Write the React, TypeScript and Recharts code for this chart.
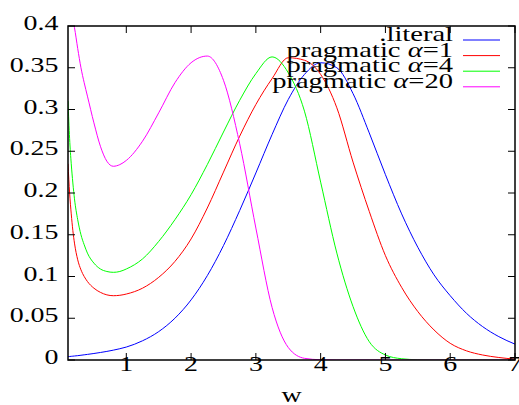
import { LineChart, Line, XAxis, YAxis, Legend, Label } from "recharts";

// sample points along w (x axis): finer near the left edge
const W = [0.1, 0.125, 0.15, 0.175, 0.2, 0.25, 0.3, 0.35, 0.4, 0.5, 0.6, 0.7, 0.8, 0.9, 1, 1.25, 1.5, 1.75, 2, 2.25, 2.5, 2.75, 3, 3.25, 3.5, 3.75, 4, 4.25, 4.5, 4.75, 5, 5.25, 5.5, 5.75, 6, 6.25, 6.5, 6.75, 7];

const LITERAL = [
  0.004, 0.0042, 0.0044, 0.0046, 0.0048, 0.0052, 0.0057, 0.0062, 0.0067, 0.0078, 0.009, 0.0103, 0.0118, 0.0135, 0.0155,
  0.023, 0.034, 0.05, 0.072, 0.101, 0.137, 0.179, 0.224, 0.27, 0.312, 0.342, 0.356, 0.35, 0.319, 0.272, 0.222, 0.175, 0.135, 0.102, 0.077, 0.056, 0.04, 0.028, 0.019,
];
const ALPHA1 = [
  0.235, 0.2, 0.175, 0.155, 0.14, 0.12, 0.108, 0.1, 0.094, 0.086, 0.081, 0.078, 0.077, 0.0775, 0.079,
  0.086, 0.099, 0.118, 0.145, 0.182, 0.225, 0.268, 0.306, 0.337, 0.362, 0.359, 0.342, 0.302, 0.237, 0.178, 0.125, 0.087, 0.058, 0.036, 0.02, 0.011, 0.006, 0.003, 0.001,
];
const ALPHA4 = [
  0.31, 0.265, 0.235, 0.212, 0.193, 0.168, 0.15, 0.138, 0.128, 0.116, 0.109, 0.106, 0.105, 0.106, 0.109,
  0.121, 0.142, 0.168, 0.198, 0.234, 0.273, 0.311, 0.343, 0.363, 0.344, 0.298, 0.213, 0.128, 0.064, 0.022, 0.006, 0.0015, 0.0003, 0, 0, 0, 0, 0, 0,
];
const ALPHA20 = [
  0.47, 0.44, 0.42, 0.408, 0.398, 0.373, 0.35, 0.332, 0.316, 0.284, 0.256, 0.238, 0.232, 0.234, 0.239,
  0.262, 0.296, 0.332, 0.356, 0.364, 0.335, 0.259, 0.158, 0.063, 0.015, 0.002, 0.0003, 0, 0, 0, 0, 0, 0, 0, 0, 0, 0, 0, 0,
];

const X_TICKS = [1, 2, 3, 4, 5, 6, 7];
const Y_TICKS = [0, 0.05, 0.1, 0.15, 0.2, 0.25, 0.3, 0.35, 0.4];

const SERIES = [
  { key: "literal", name: ".literal", color: "#0000ff" },
  { key: "a1", name: "pragmatic α=1", color: "#ff0000" },
  { key: "a4", name: "pragmatic α=4", color: "#00ff00" },
  { key: "a20", name: "pragmatic α=20", color: "#ff00ff" },
];

const data = W.map((w, i) => ({
  w,
  literal: LITERAL[i],
  a1: ALPHA1[i],
  a4: ALPHA4[i],
  a20: ALPHA20[i],
}));

// plot box (layout)
const WIDTH = 519;
const HEIGHT = 405;
const LEFT = 68;
const TOP = 26;
const RIGHT = 515;
const BOTTOM = 360;
const TICK = 7;

const textStyle = {
  fontFamily: "'Liberation Serif', 'Times New Roman', Tinos, 'DejaVu Serif', serif",
  fontSize: 21,
  fill: "#000",
};
const STRETCH = 1.33;

// x tick: label + inward marks on the bottom and top border
function XTick({ x, payload }: any) {
  return (
    <g>
      <line x1={x} x2={x} y1={BOTTOM} y2={BOTTOM - TICK} stroke="#000000" strokeWidth={1} />
      <line x1={x} x2={x} y1={TOP} y2={TOP + TICK} stroke="#000000" strokeWidth={1} />
      <text transform={`translate(${x},${BOTTOM + 10.5}) scale(${STRETCH},1)`} textAnchor="middle" style={textStyle}>
        {payload.value}
      </text>
    </g>
  );
}

// y tick: label + inward marks on the left and right border
function YTick({ y, payload }: any) {
  return (
    <g>
      <line x1={LEFT} x2={LEFT + TICK} y1={y} y2={y} stroke="#000000" strokeWidth={1} />
      <line x1={RIGHT} x2={RIGHT - TICK} y1={y} y2={y} stroke="#000000" strokeWidth={1} />
      <text transform={`translate(${LEFT - 9.5},${y + 4}) scale(${STRETCH},1)`} textAnchor="end" style={textStyle}>
        {payload.value}
      </text>
    </g>
  );
}

function WLabel({ viewBox }: any) {
  const { x, y, width } = viewBox;
  return (
    <text transform={`translate(${x + width / 2},${y + 42}) scale(${STRETCH},1)`} textAnchor="middle" style={textStyle}>
      w
    </text>
  );
}

// key drawn in the series order (gnuplot style: text right-aligned, sample line on the right),
// plus the border box around the plot
function Key() {
  return (
    <svg width={WIDTH} height={HEIGHT} style={{ display: "block" }}>
      <rect x={LEFT} y={TOP} width={RIGHT - LEFT} height={BOTTOM - TOP} fill="none" stroke="#000000" strokeWidth={1.5} />
      {SERIES.map((s, i) => {
        const y = 41 + i * 15.6;
        const parts = s.name.split("α");
        return (
          <g key={s.key}>
            <text transform={`translate(453,${y}) scale(1.36,1)`} textAnchor="end" style={textStyle}>
              {parts[0]}
              {parts.length > 1 && <tspan fontStyle="italic">α</tspan>}
              {parts.length > 1 && parts[1]}
            </text>
            <line x1={463} x2={500} y1={y - 1} y2={y - 1} stroke={s.color} strokeWidth={1} />
          </g>
        );
      })}
    </svg>
  );
}

export default function App() {
  return (
    <div style={{ position: "relative", width: WIDTH, height: HEIGHT, background: "#fff" }}>
      <style>{`body{margin:0}`}</style>
      <LineChart width={WIDTH} height={HEIGHT} data={data} margin={{ top: TOP, right: WIDTH - RIGHT, bottom: 0, left: 0 }}>
        <XAxis
          dataKey="w"
          type="number"
          domain={[0.1, 7]}
          ticks={X_TICKS}
          allowDataOverflow
          height={HEIGHT - BOTTOM}
          axisLine={false}
          tickLine={false}
          tick={<XTick />}
        >
          <Label content={<WLabel />} />
        </XAxis>
        <YAxis
          type="number"
          domain={[0, 0.4]}
          ticks={Y_TICKS}
          allowDataOverflow
          width={LEFT}
          axisLine={false}
          tickLine={false}
          tick={<YTick />}
        />
        <Legend
          layout="horizontal"
          verticalAlign="middle"
          align="center"
          content={<Key />}
          wrapperStyle={{ position: "absolute", left: 0, top: 0, width: WIDTH, height: HEIGHT, pointerEvents: "none" }}
        />
        {SERIES.map((s) => (
          <Line
            key={s.key}
            type="monotone"
            dataKey={s.key}
            name={s.name}
            stroke={s.color}
            strokeWidth={1}
            dot={false}
            activeDot={false}
            isAnimationActive={false}
          />
        ))}
      </LineChart>
    </div>
  );
}
